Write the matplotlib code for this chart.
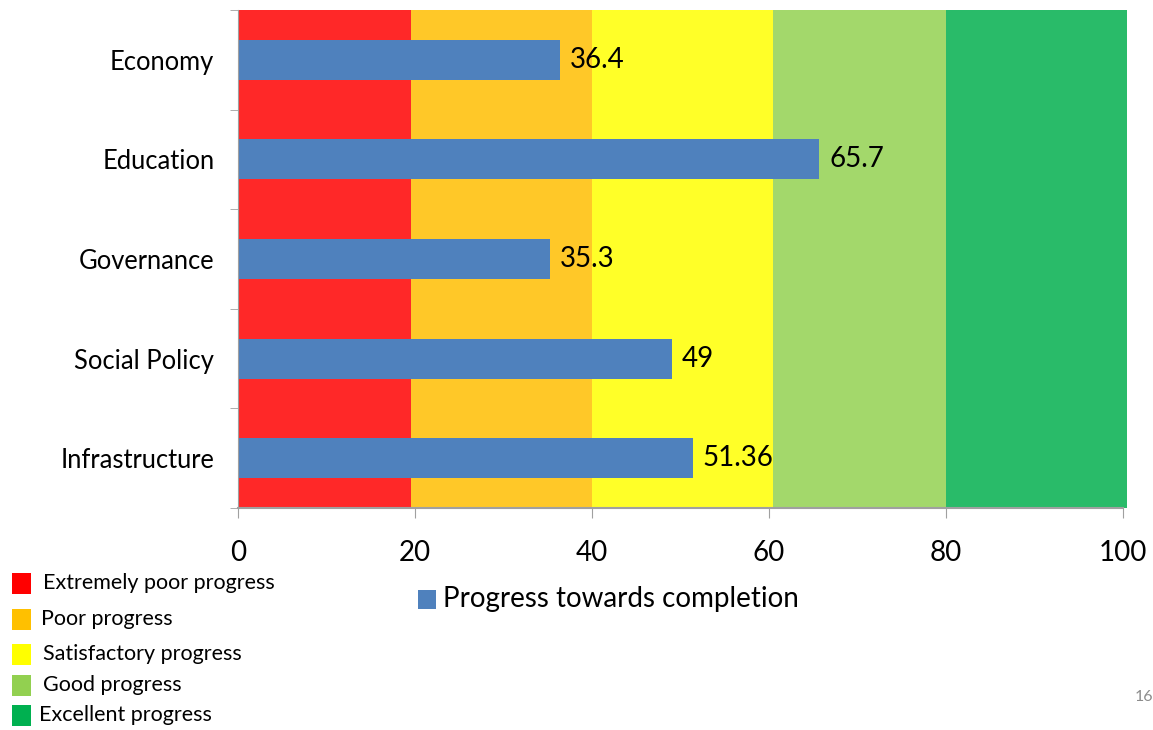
import matplotlib.pyplot as plt
from matplotlib.patches import Rectangle

# data
categories = ["Economy", "Education", "Governance", "Social Policy", "Infrastructure"]
progress = [36.4, 65.7, 35.3, 49, 51.36]
value_labels = ["36.4", "65.7", "35.3", "49", "51.36"]

band_edges = [0, 19.6, 40, 60.5, 80, 100.5]
band_colors = ["#FF2828", "#FFC828", "#FFFF28", "#A3D86B", "#29BB69"]
band_labels = ["Extremely poor progress", "Poor progress", "Satisfactory progress",
               "Good progress", "Excellent progress"]
legend_colors = ["#FF0000", "#FFC000", "#FFFF00", "#92D050", "#00B050"]
xticks = [0, 20, 40, 60, 80, 100]

bar_color = "#4F81BD"
font = "Lato"

fig = plt.figure(figsize=(11.53, 7.30), dpi=100)
ax = fig.add_axes([0.2064, 0.3041, 0.7676, 0.6822])

# background rating bands
for lo, hi, c in zip(band_edges[:-1], band_edges[1:], band_colors):
    ax.axvspan(lo, hi, color=c, lw=0, zorder=0, clip_on=False)

ypos = list(range(len(categories)))
bars = ax.barh(ypos, progress, height=0.4, color=bar_color, zorder=2)
for b, lab in zip(bars, value_labels):
    ax.annotate(lab, (b.get_width(), b.get_y() + b.get_height() / 2),
                xytext=(7, 0), textcoords="offset points", va="center", ha="left",
                fontsize=20, family=font, color="black", zorder=3)

ax.set_xlim(0, 100)
ax.set_ylim(len(categories) - 0.5, -0.5)
ax.set_xticks(xticks)
ax.set_xticklabels([str(t) for t in xticks], fontsize=20, family=font)
ax.set_yticks(ypos)
ax.set_yticklabels(categories, fontsize=18.4, family=font)
ax.set_yticks([i - 0.5 for i in range(len(categories) + 1)], minor=True)
ax.tick_params(axis="y", which="major", length=0, pad=17)
ax.tick_params(axis="y", which="minor", length=6, color="#A0A0A0", direction="out")
ax.tick_params(axis="x", length=7, color="#A0A0A0", direction="out", pad=16)

for s in ["top", "right"]:
    ax.spines[s].set_visible(False)
ax.spines["left"].set_color("#A0A0A0")
ax.spines["bottom"].set_color("#A0A0A0")
ax.spines["bottom"].set_linewidth(1.5)

# category legend (left-bottom)
leg_y = [583, 619, 654, 685, 715]
leg_tx = [43, 41, 43, 43, 39]
W, H = 1153, 730
for y, tx, c, lab in zip(leg_y, leg_tx, legend_colors, band_labels):
    fig.patches.append(Rectangle((12 / W, 1 - (y + 10.5) / H), 19 / W, 21 / H,
                                 transform=fig.transFigure, color=c, lw=0))
    fig.text(tx / W, 1 - y / H, lab, fontsize=15.5, family=font, va="center", ha="left")

# series legend
fig.patches.append(Rectangle((418 / W, 1 - 609 / H), 18 / W, 19 / H,
                             transform=fig.transFigure, color=bar_color, lw=0))
fig.text(443 / W, 1 - 599 / H, "Progress towards completion", fontsize=20,
         family=font, va="center", ha="left")

fig.text(1135 / W, 1 - 697 / H, "16", fontsize=11.5, family=font, color="#8C8C8C",
         va="center", ha="left")

fig.savefig("out.png", dpi=100)
